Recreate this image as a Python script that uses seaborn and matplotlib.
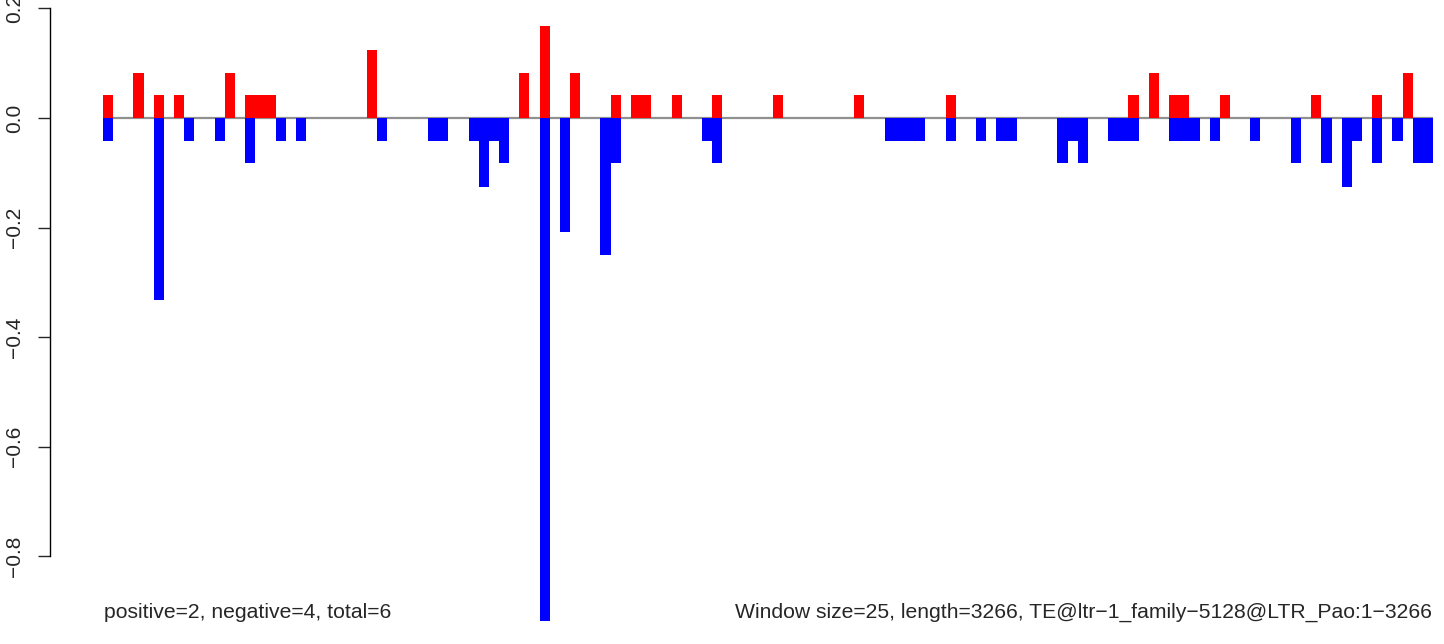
import numpy as np
import pandas as pd
import seaborn as sns
import matplotlib
matplotlib.use("Agg")
import matplotlib.pyplot as plt

# window values (131 windows of 25 nt)
n_windows = 131
pos_idx = [0, 3, 5, 7, 12, 14, 15, 16, 26, 41, 43, 46, 50, 52, 53, 56, 60, 66,
           74, 83, 101, 103, 105, 106, 110, 119, 125, 128]
pos_val = [0.042, 0.083, 0.042, 0.042, 0.083, 0.042, 0.042, 0.042, 0.125, 0.083,
           0.167, 0.083, 0.042, 0.042, 0.042, 0.042, 0.042, 0.042, 0.042, 0.042,
           0.042, 0.083, 0.042, 0.042, 0.042, 0.042, 0.042, 0.083]
neg_idx = [0, 5, 8, 11, 14, 17, 19, 27, 32, 33, 36, 37, 38, 39, 43, 45, 49, 50,
           59, 60, 77, 78, 79, 80, 83, 86, 88, 89, 94, 95, 96, 99, 100, 101, 105,
           106, 107, 109, 113, 117, 120, 122, 123, 125, 127, 129, 130]
neg_val = [-0.042, -0.333, -0.042, -0.042, -0.083, -0.042, -0.042, -0.042, -0.042,
           -0.042, -0.042, -0.125, -0.042, -0.083, -0.917, -0.208, -0.25, -0.083,
           -0.042, -0.083, -0.042, -0.042, -0.042, -0.042, -0.042, -0.042, -0.042,
           -0.042, -0.083, -0.042, -0.083, -0.042, -0.042, -0.042, -0.042, -0.042,
           -0.042, -0.042, -0.042, -0.083, -0.083, -0.125, -0.042, -0.083, -0.042,
           -0.083, -0.083]
yticks = [-0.8, -0.6, -0.4, -0.2, 0.0, 0.2]
left_note = "positive=2, negative=4, total=6"
right_note = "Window size=25, length=3266, TE@ltr\u22121_family\u22125128@LTR_Pao:1\u22123266"

df = pd.DataFrame({"window": np.arange(n_windows), "pos": 0.0, "neg": 0.0})
df.loc[pos_idx, "pos"] = pos_val
df.loc[neg_idx, "neg"] = neg_val

sns.set_style("white")
plt.rcParams["font.family"] = ["Liberation Sans", "DejaVu Sans"]

W, H = 1444, 644
fig = plt.figure(figsize=(W / 100, H / 100), dpi=100)
ax_left = 49.5
ax = fig.add_axes([ax_left / W, 0, (W - ax_left) / W, 1])

ax.hlines(0, -0.5, n_windows - 0.5, color="#909090", lw=1.6, zorder=0.5)
sns.barplot(data=df, x="window", y="pos", color="red", saturation=1, width=1,
            errorbar=None, linewidth=0, ax=ax)
sns.barplot(data=df, x="window", y="neg", color="blue", saturation=1, width=1,
            errorbar=None, linewidth=0, ax=ax)

# pixel mapping: zero at y=118, 548 px per unit; bars 10.153 px wide starting at x=103
px_x = 10.153
xmin = -0.5 - (103 - ax_left) / px_x
ax.set_xlim(xmin, xmin + (W - ax_left) / px_x)
ax.set_ylim(-(H - 118) / 548, 118 / 548)

for s in ["top", "right", "bottom"]:
    ax.spines[s].set_visible(False)
ax.spines["left"].set_bounds(-0.8, 0.2)
ax.spines["left"].set_linewidth(1.0)
ax.spines["left"].set_color("black")
ax.set_xticks([])
ax.set_xlabel("")
ax.set_ylabel("")
ax.set_yticks(yticks)
ax.set_yticklabels([f"{v:.1f}".replace("-", "\u2212") for v in yticks])
ax.tick_params(axis="y", direction="out", length=9, width=1.0, pad=9,
               labelsize=15, labelrotation=90, left=True)
for lab in ax.get_yticklabels():
    lab.set_verticalalignment("center")

fig.text(104 / W, 1 - 612 / H, left_note, fontsize=15.2, ha="left", va="center")
fig.text(1432 / W, 1 - 612 / H, right_note, fontsize=15.2, ha="right", va="center")

fig.savefig("out.png", dpi=100)
